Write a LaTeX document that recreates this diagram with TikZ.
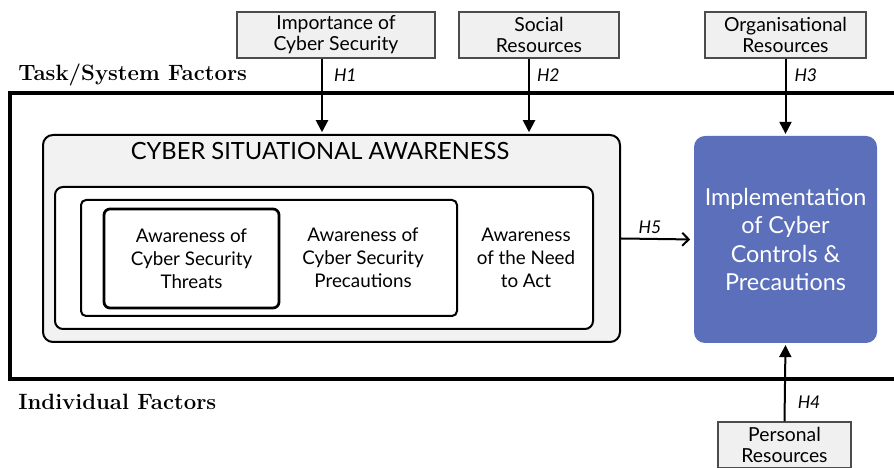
\documentclass[tikz,border=0pt]{standalone}
\usepackage{fontspec}
\setsansfont{Lato}
\usetikzlibrary{arrows.meta}
\definecolor{boxgray}{RGB}{240,240,240}
\definecolor{csagray}{RGB}{242,242,242}
\definecolor{implblue}{RGB}{92,111,187}
\tikzset{
	factorbox/.style={draw=black!70, fill=boxgray, line width=0.25mm, minimum height=0.92cm, inner sep=0pt, align=center, font=\sffamily\fontsize{11}{12}\selectfont},
	factorlabel/.style={anchor=west, inner sep=0pt, font=\bfseries\fontsize{12.6}{14}\selectfont},
	csabox/.style={draw, fill=csagray, line width=0.4mm, rounded corners=0.2cm},
	levelbox/.style={draw, fill=white, line width=0.4mm, align=center, font=\sffamily\fontsize{10.7}{13}\selectfont},
	leveltext/.style={align=center, inner sep=0pt, font=\sffamily\fontsize{10.7}{13}\selectfont},
	implbox/.style={fill=implblue, text=white, rounded corners=0.22cm, align=center, minimum width=3.66cm, minimum height=4.14cm, font=\sffamily\fontsize{13.3}{16}\selectfont},
	hlabel/.style={inner sep=0pt, font=\sffamily\itshape\fontsize{10}{12}\selectfont},
	arr/.style={line width=0.4mm, -{Triangle[length=2.4mm,width=2.4mm]}, shorten >=1pt},
	arrbarb/.style={line width=0.4mm, -{Straight Barb[length=1.3mm,width=2.6mm]}, shorten >=2pt}
}
\begin{document}
\begin{tikzpicture}
		%%%%% START %%%%%
		\useasboundingbox (0,0) rectangle (17.88,9.36);
		
		\draw[line width=0.8mm] (18.2,7.5) -- (0.2,7.5) -- (0.2,1.78) -- (18.2,1.78);
		
		\node[factorlabel] (task) at (0.36,7.86) {Task/System Factors};
		\node[factorlabel] (indiv) at (0.36,1.32) {Individual Factors};
		
		\node[factorbox, minimum width=3.96cm] (imp) at (6.72,8.66) {Importance of\\Cyber Security};
		\node[factorbox, minimum width=3.2cm] (soc) at (10.78,8.66) {Social\\Resources};
		\node[factorbox, minimum width=3.22cm] (org) at (15.71,8.66) {Organisational\\Resources};
		\node[factorbox, minimum width=2.66cm] (pers) at (15.69,0.46) {Personal\\Resources};
		
		\node[csabox, minimum width=11.54cm, minimum height=4.14cm] (csa) at (6.63,4.59) {};
		\node[inner sep=0pt, font=\sffamily\fontsize{13.5}{16}\selectfont] (csatitle) at (6.40,6.34) {CYBER SITUATIONAL AWARENESS};
		\node[levelbox, rounded corners=0.16cm, minimum width=10.76cm, minimum height=2.84cm] (act) at (6.48,4.20) {};
		\node[levelbox, rounded corners=0.1cm, minimum width=7.52cm, minimum height=2.32cm] (prec) at (5.38,4.20) {};
		\node[levelbox, line width=0.55mm, rounded corners=0.12cm, minimum width=3.5cm, minimum height=1.98cm] (threat) at (3.83,4.19) {Awareness of\\Cyber Security\\Threats};
		\node[leveltext] (prectext) at (7.26,4.20) {Awareness of\\Cyber Security\\Precautions};
		\node[leveltext] (acttext) at (10.52,4.20) {Awareness\\of the Need\\to Act};
		
		\node[implbox] (impl) at (15.71,4.57) {Implementation\\of Cyber\\Controls \&\\Precautions};
		
		\draw[arr] ([xshift=-0.28cm]imp.south) -- ([xshift=-0.28cm]imp.south |- csa.north) node[hlabel, pos=0.22, right=0.22cm] (h1) {H1};
		\draw[arr] ([xshift=-0.2cm]soc.south) -- ([xshift=-0.2cm]soc.south |- csa.north) node[hlabel, pos=0.22, right=0.14cm] (h2) {H2};
		\draw[arr] (org.south) -- (impl.north) node[hlabel, pos=0.22, right=0.16cm] (h3) {H3};
		\draw[arr] (pers.north) -- (impl.south) node[hlabel, pos=0.25, right=0.24cm] (h4) {H4};
		\draw[arrbarb] (csa.east) -- (impl.west) node[hlabel, pos=0.4, above=0.08cm] (h5) {H5};
		
		%%%%% END %%%%%
	\end{tikzpicture}
\end{document}
